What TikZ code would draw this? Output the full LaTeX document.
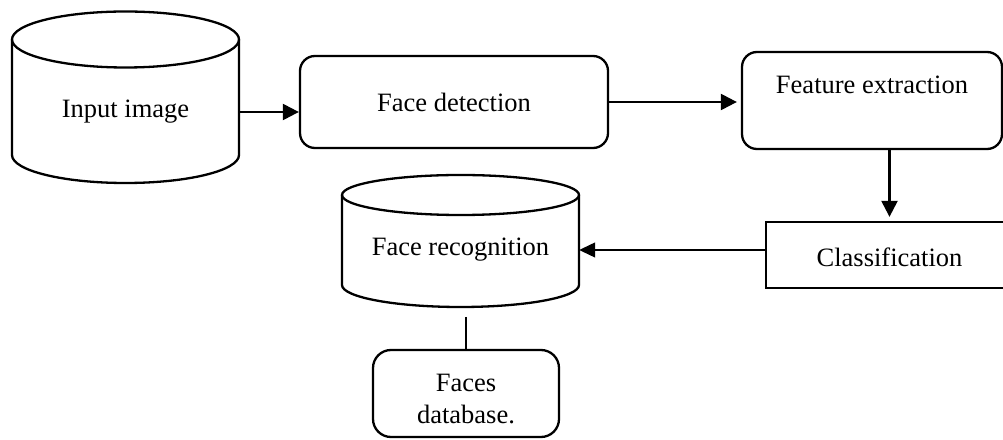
\documentclass[tikz,border=0pt]{standalone}
\usepackage{fontspec}
\setmainfont{Liberation Serif}
\usetikzlibrary{arrows.meta}
\begin{document}
\begin{tikzpicture}[x=1pt,y=1pt,
  every node/.style={font=\fontsize{26.5}{32}\selectfont},
  outline/.style={line width=2.3pt},
  roundbox/.style={outline, draw, rounded corners=15pt, inner sep=0pt},
  squarebox/.style={outline, draw, inner sep=0pt},
  label text/.style={inner sep=0pt, align=center},
  flow/.style={line width=2.3pt, -{Triangle[length=16pt,width=16pt]}},
  thinflow/.style={line width=1.2pt, -{Triangle[length=16pt,width=15pt]}}]
\path[use as bounding box, clip] (0,0) rectangle (1003,439);

% Input image store
\draw[outline] (125.5,399.5) ellipse [x radius=113.5pt, y radius=28pt];
\draw[outline] (12,399.5) -- (12,284) arc[start angle=180, end angle=360, x radius=113.5pt, y radius=28pt] -- (239,399.5);
\node[label text, minimum width=227pt] (input) at (125.5,327) {Input image};

% Face detection
\node[roundbox, minimum width=308pt, minimum height=92pt] (det) at (454,337) {Face detection};

% Feature extraction
\node[roundbox, minimum width=260pt, minimum height=97pt] (feat) at (872,338.5) {};
\node[label text] (feattxt) at (872,354) {Feature extraction};

% Classification
\node[squarebox, minimum width=247pt, minimum height=66pt] (cls) at (889.5,184) {};
\node[label text] (clstxt) at (889.5,182) {Classification};

% Face recognition store
\draw[outline] (460.5,244) ellipse [x radius=118.5pt, y radius=20pt];
\draw[outline] (342,244) -- (342,154) arc[start angle=180, end angle=360, x radius=118.5pt, y radius=22pt] -- (579,244);
\node[label text, minimum width=237pt] (rec) at (460.5,189) {Face recognition};

% Faces database
\node[roundbox, rounded corners=18pt, minimum width=186pt, minimum height=87pt] (db) at (466,45.5) {};
\node[label text] (dbtxt) at (466,40) {Faces\\database.};
\coordinate (recbase) at (466,122);

% Connectors
\draw[flow] (input.east) -- (input.east -| det.west);
\draw[flow, shorten >=4pt] (det.east) -- (det.east -| feat.west);
\draw[flow, shorten >=4pt] (feat.south -| cls.north) -- (cls.north);
\draw[thinflow] ([yshift=5pt]cls.west) -- ([yshift=5pt]cls.west -| rec.east);
\draw[outline] (recbase) -- (db.north);
\end{tikzpicture}
\end{document}
